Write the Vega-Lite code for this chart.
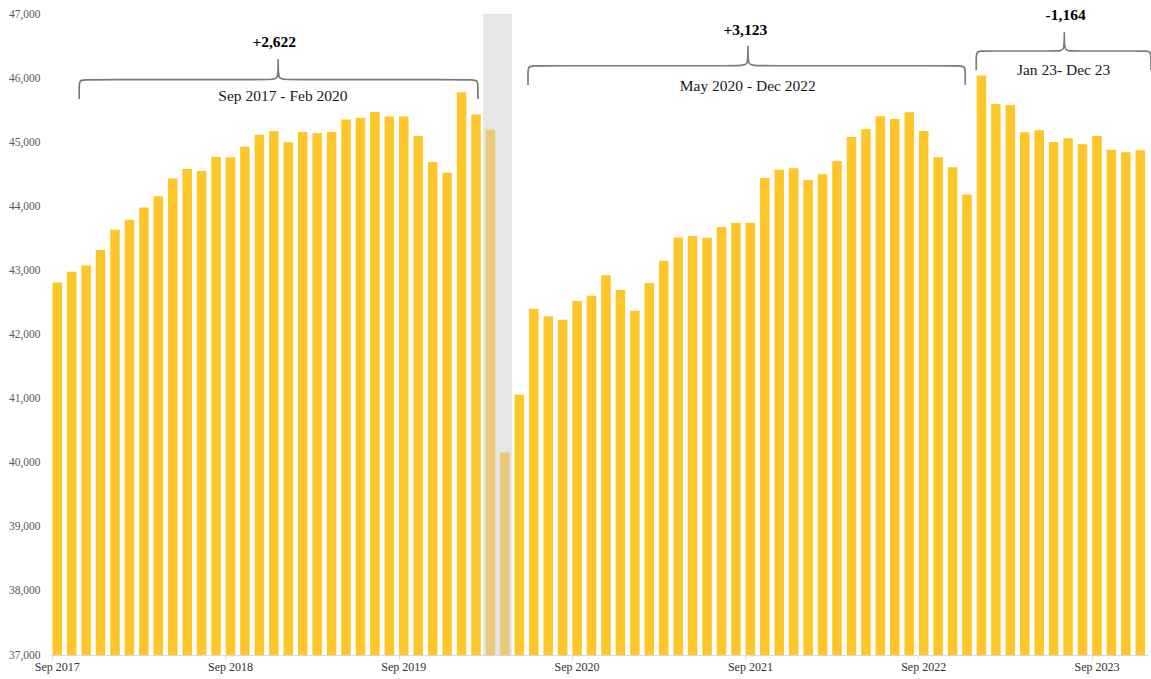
{
  "$schema": "https://vega.github.io/schema/vega-lite/v6.json",
  "width": 1097.5,
  "height": 641,
  "autosize": {"type": "none"},
  "padding": {"left": 50, "top": 14, "right": 3.5, "bottom": 24},
  "background": "white",
  "config": {
    "view": {"stroke": null},
    "axisY": {
      "domain": false,
      "ticks": false,
      "grid": false,
      "tickCount": 10,
      "labelFont": "Liberation Serif",
      "labelFontSize": 11.5,
      "labelColor": "#595959",
      "labelPadding": 10
    }
  },
  "datasets": {
    "employment": [
      {"month": "2017-09", "v": 42810}, {"month": "2017-10", "v": 42980}, {"month": "2017-11", "v": 43075}, {"month": "2017-12", "v": 43320},
      {"month": "2018-01", "v": 43635}, {"month": "2018-02", "v": 43790}, {"month": "2018-03", "v": 43980}, {"month": "2018-04", "v": 44155},
      {"month": "2018-05", "v": 44435}, {"month": "2018-06", "v": 44580}, {"month": "2018-07", "v": 44550}, {"month": "2018-08", "v": 44770},
      {"month": "2018-09", "v": 44765}, {"month": "2018-10", "v": 44930}, {"month": "2018-11", "v": 45115}, {"month": "2018-12", "v": 45170},
      {"month": "2019-01", "v": 45000}, {"month": "2019-02", "v": 45160}, {"month": "2019-03", "v": 45145}, {"month": "2019-04", "v": 45160},
      {"month": "2019-05", "v": 45355}, {"month": "2019-06", "v": 45380}, {"month": "2019-07", "v": 45470}, {"month": "2019-08", "v": 45400},
      {"month": "2019-09", "v": 45400}, {"month": "2019-10", "v": 45095}, {"month": "2019-11", "v": 44690}, {"month": "2019-12", "v": 44525},
      {"month": "2020-01", "v": 45780}, {"month": "2020-02", "v": 45432}, {"month": "2020-03", "v": 45195}, {"month": "2020-04", "v": 40160},
      {"month": "2020-05", "v": 41060}, {"month": "2020-06", "v": 42400}, {"month": "2020-07", "v": 42284}, {"month": "2020-08", "v": 42230},
      {"month": "2020-09", "v": 42522}, {"month": "2020-10", "v": 42605}, {"month": "2020-11", "v": 42924}, {"month": "2020-12", "v": 42694},
      {"month": "2021-01", "v": 42370}, {"month": "2021-02", "v": 42803}, {"month": "2021-03", "v": 43150}, {"month": "2021-04", "v": 43515},
      {"month": "2021-05", "v": 43536}, {"month": "2021-06", "v": 43510}, {"month": "2021-07", "v": 43677}, {"month": "2021-08", "v": 43744},
      {"month": "2021-09", "v": 43744}, {"month": "2021-10", "v": 44441}, {"month": "2021-11", "v": 44572}, {"month": "2021-12", "v": 44593},
      {"month": "2022-01", "v": 44410}, {"month": "2022-02", "v": 44499}, {"month": "2022-03", "v": 44706}, {"month": "2022-04", "v": 45081},
      {"month": "2022-05", "v": 45201}, {"month": "2022-06", "v": 45404}, {"month": "2022-07", "v": 45362}, {"month": "2022-08", "v": 45466},
      {"month": "2022-09", "v": 45174}, {"month": "2022-10", "v": 44764}, {"month": "2022-11", "v": 44610}, {"month": "2022-12", "v": 44183},
      {"month": "2023-01", "v": 46040}, {"month": "2023-02", "v": 45596}, {"month": "2023-03", "v": 45580}, {"month": "2023-04", "v": 45154},
      {"month": "2023-05", "v": 45185}, {"month": "2023-06", "v": 45003}, {"month": "2023-07", "v": 45060}, {"month": "2023-08", "v": 44967},
      {"month": "2023-09", "v": 45096}, {"month": "2023-10", "v": 44883}, {"month": "2023-11", "v": 44842}, {"month": "2023-12", "v": 44876}
    ],
    "shade": [{"from": 29.5, "to": 31.5}],
    "brackets": [
      {"b": 1, "o": 1, "p": 1.52, "v": 45674}, {"b": 1, "o": 2, "p": 1.52, "v": 45825}, {"b": 1, "o": 3, "p": 1.52, "v": 45975},
      {"b": 1, "o": 4, "p": 1.97, "v": 45975}, {"b": 1, "o": 5, "p": 14.95, "v": 45975}, {"b": 1, "o": 6, "p": 15.30, "v": 45975},
      {"b": 1, "o": 7, "p": 15.30, "v": 46295}, {"b": 1, "o": 8, "p": 15.30, "v": 46295}, {"b": 1, "o": 9, "p": 15.30, "v": 46295},
      {"b": 1, "o": 10, "p": 15.30, "v": 45975}, {"b": 1, "o": 11, "p": 15.65, "v": 45975}, {"b": 1, "o": 12, "p": 28.68, "v": 45975},
      {"b": 1, "o": 13, "p": 29.13, "v": 45975}, {"b": 1, "o": 14, "p": 29.13, "v": 45825}, {"b": 1, "o": 15, "p": 29.13, "v": 45674},

      {"b": 2, "o": 1, "p": 32.60, "v": 45892}, {"b": 2, "o": 2, "p": 32.60, "v": 46042}, {"b": 2, "o": 3, "p": 32.60, "v": 46193},
      {"b": 2, "o": 4, "p": 33.05, "v": 46193}, {"b": 2, "o": 5, "p": 47.48, "v": 46193}, {"b": 2, "o": 6, "p": 47.83, "v": 46193},
      {"b": 2, "o": 7, "p": 47.83, "v": 46506}, {"b": 2, "o": 8, "p": 47.83, "v": 46506}, {"b": 2, "o": 9, "p": 47.83, "v": 46506},
      {"b": 2, "o": 10, "p": 47.83, "v": 46193}, {"b": 2, "o": 11, "p": 48.18, "v": 46193}, {"b": 2, "o": 12, "p": 62.43, "v": 46193},
      {"b": 2, "o": 13, "p": 62.88, "v": 46193}, {"b": 2, "o": 14, "p": 62.88, "v": 46042}, {"b": 2, "o": 15, "p": 62.88, "v": 45892},

      {"b": 3, "o": 1, "p": 63.64, "v": 46126}, {"b": 3, "o": 2, "p": 63.64, "v": 46275}, {"b": 3, "o": 3, "p": 63.64, "v": 46423},
      {"b": 3, "o": 4, "p": 64.09, "v": 46423}, {"b": 3, "o": 5, "p": 69.39, "v": 46423}, {"b": 3, "o": 6, "p": 69.74, "v": 46423},
      {"b": 3, "o": 7, "p": 69.74, "v": 46715}, {"b": 3, "o": 8, "p": 69.74, "v": 46715}, {"b": 3, "o": 9, "p": 69.74, "v": 46715},
      {"b": 3, "o": 10, "p": 69.74, "v": 46423}, {"b": 3, "o": 11, "p": 70.09, "v": 46423}, {"b": 3, "o": 12, "p": 75.29, "v": 46423},
      {"b": 3, "o": 13, "p": 75.74, "v": 46423}, {"b": 3, "o": 14, "p": 75.74, "v": 46275}, {"b": 3, "o": 15, "p": 75.74, "v": 46126}
    ],
    "totals": [
      {"p": 15.03, "v": 46558, "label": "+2,622"},
      {"p": 47.65, "v": 46750, "label": "+3,123"},
      {"p": 69.83, "v": 46984, "label": "-1,164"}
    ],
    "periods": [
      {"p": 15.63, "v": 45725, "label": "Sep 2017 - Feb 2020"},
      {"p": 47.82, "v": 45877, "label": "May 2020 - Dec 2022"},
      {"p": 69.69, "v": 46126, "label": "Jan 23- Dec 23"}
    ]
  },
  "layer": [
    {
      "data": {"name": "shade"},
      "mark": {"type": "rect", "color": "#E6E6E6"},
      "encoding": {
        "x": {"field": "from", "type": "quantitative", "scale": {"domain": [-0.5, 75.5], "nice": false, "zero": false}, "axis": null},
        "x2": {"field": "to"},
        "y": {"datum": 37000, "type": "quantitative", "scale": {"domain": [37000, 47000], "nice": false, "zero": false}, "title": null},
        "y2": {"datum": 47000}
      }
    },
    {
      "data": {"name": "employment"},
      "mark": {"type": "bar"},
      "encoding": {
        "x": {
          "field": "month",
          "type": "ordinal",
          "sort": null,
          "scale": {"paddingInner": 0.34, "paddingOuter": 0.17},
          "axis": {
            "values": ["2017-09", "2018-09", "2019-09", "2020-09", "2021-09", "2022-09", "2023-09"],
            "labelExpr": "'Sep ' + slice(datum.value, 0, 4)",
            "labelAngle": 0,
            "bandPosition": 0,
            "tickSize": 4,
            "tickColor": "#D9D9D9",
            "domainColor": "#D9D9D9",
            "labelFont": "Liberation Serif",
            "labelFontSize": 12,
            "labelColor": "#333333",
            "labelPadding": 2,
            "grid": false,
            "title": null
          }
        },
        "y": {"field": "v", "type": "quantitative", "scale": {"domain": [37000, 47000], "nice": false, "zero": false}, "title": null},
        "y2": {"datum": 37000},
        "color": {
          "condition": {"test": "datum.month === '2020-03' || datum.month === '2020-04'", "value": "#E8CA78"},
          "value": "#FFC629"
        }
      }
    },
    {
      "data": {"name": "brackets"},
      "mark": {"type": "line", "interpolate": "basis", "color": "#7A7A7A", "strokeWidth": 1.7},
      "encoding": {
        "x": {"field": "p", "type": "quantitative", "scale": {"domain": [-0.5, 75.5], "nice": false, "zero": false}, "axis": null},
        "y": {"field": "v", "type": "quantitative", "scale": {"domain": [37000, 47000], "nice": false, "zero": false}, "title": null},
        "detail": {"field": "b"},
        "order": {"field": "o"}
      }
    },
    {
      "data": {"name": "totals"},
      "mark": {"type": "text", "font": "Liberation Serif", "fontSize": 15.5, "fontWeight": "bold", "color": "#000000", "align": "center", "baseline": "middle"},
      "encoding": {
        "x": {"field": "p", "type": "quantitative", "scale": {"domain": [-0.5, 75.5], "nice": false, "zero": false}, "axis": null},
        "y": {"field": "v", "type": "quantitative", "scale": {"domain": [37000, 47000], "nice": false, "zero": false}, "title": null},
        "text": {"field": "label"}
      }
    },
    {
      "data": {"name": "periods"},
      "mark": {"type": "text", "font": "Liberation Serif", "fontSize": 15.5, "color": "#1A1A1A", "align": "center", "baseline": "middle"},
      "encoding": {
        "x": {"field": "p", "type": "quantitative", "scale": {"domain": [-0.5, 75.5], "nice": false, "zero": false}, "axis": null},
        "y": {"field": "v", "type": "quantitative", "scale": {"domain": [37000, 47000], "nice": false, "zero": false}, "title": null},
        "text": {"field": "label"}
      }
    }
  ],
  "resolve": {"scale": {"x": "independent"}}
}
